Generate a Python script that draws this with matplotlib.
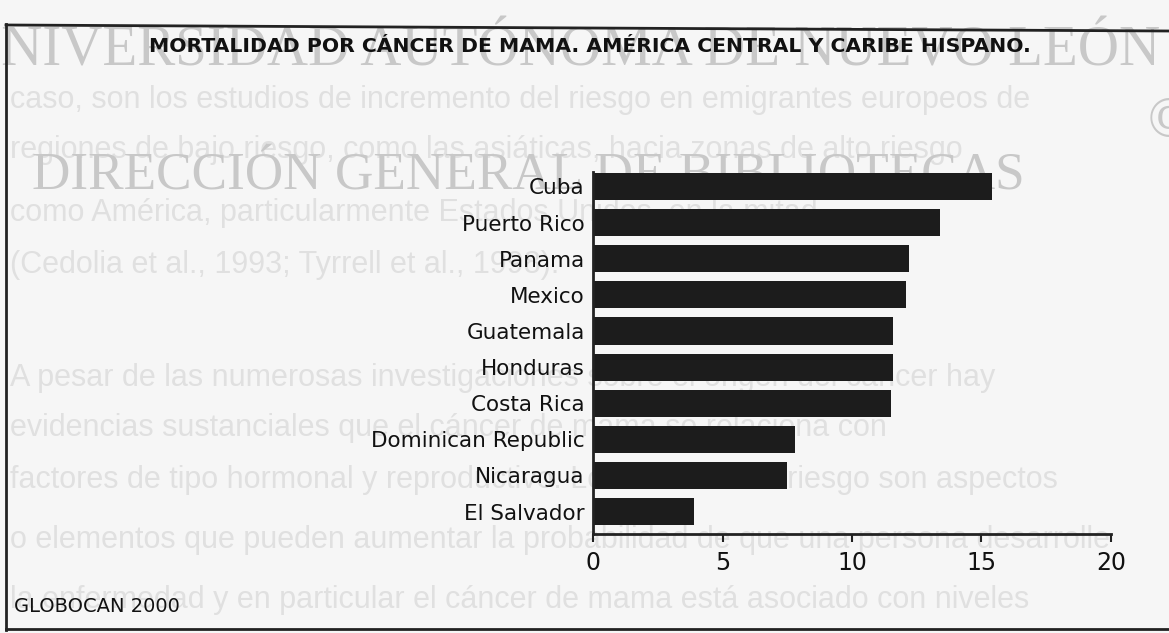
import matplotlib.pyplot as plt
from matplotlib.lines import Line2D

countries = ['Cuba', 'Puerto Rico', 'Panama', 'Mexico', 'Guatemala', 'Honduras',
             'Costa Rica', 'Dominican Republic', 'Nicaragua', 'El Salvador']
rates = [15.4, 13.4, 12.2, 12.1, 11.6, 11.6, 11.5, 7.8, 7.5, 3.9]
xticks = [0, 5, 10, 15, 20]

title = 'MORTALIDAD POR CÁNCER DE MAMA. AMÉRICA CENTRAL Y CARIBE HISPANO.'
source = 'GLOBOCAN 2000'
watermark_1 = 'UNIVERSIDAD AUTÓNOMA DE NUEVO LEÓN'
watermark_2 = 'DIRECCIÓN GENERAL DE BIBLIOTECAS'
# faint page text showing through the scan
page_lines = [
    'caso, son los estudios de incremento del riesgo en emigrantes europeos de',
    'regiones de bajo riesgo, como las asiáticas, hacia zonas de alto riesgo',
    'como América, particularmente Estados Unidos, en la mitad',
    '(Cedolia et al., 1993; Tyrrell et al., 1998).',
    'A pesar de las numerosas investigaciones sobre el origen del cáncer hay',
    'evidencias sustanciales que el cáncer de mama se relaciona con',
    'factores de tipo hormonal y reproductivo. Los factores de riesgo son aspectos',
    'o elementos que pueden aumentar la probabilidad de que una persona desarrolle',
    'la enfermedad y en particular el cáncer de mama está asociado con niveles',
]
page_y = [100, 150, 213, 265, 378, 428, 480, 540, 600]

W, H = 1169, 633

fig = plt.figure(figsize=(W / 100, H / 100), dpi=100)
fig.patch.set_facecolor('#f6f6f6')

# background page text and watermark, kept under the chart
for line, y in zip(page_lines, page_y):
    fig.text(10 / W, 1 - y / H, line, fontsize=22, color='#e0e0e0',
             family='Liberation Sans', va='center', ha='left', zorder=-2)
fig.text(-40 / W, 1 - 52 / H, watermark_1, fontsize=41, color='#c8c8c8',
         family='Liberation Serif', va='center', ha='left', zorder=-1)
fig.text(32 / W, 1 - 176 / H, watermark_2, fontsize=38.3, color='#c8c8c8',
         family='Liberation Serif', va='center', ha='left', zorder=-1)
fig.text(1148 / W, 1 - 122 / H, '©', fontsize=40, color='#c8c8c8',
         family='Liberation Serif', va='center', ha='left', zorder=-1)

# frame of the figure box
fig.add_artist(Line2D([6 / W, 6 / W], [1 - 24 / H, 1 - 630 / H], color='#222222', lw=2))
fig.add_artist(Line2D([6 / W, 1.0], [1 - 25 / H, 1 - 31 / H], color='#222222', lw=2))
fig.add_artist(Line2D([6 / W, 1.0], [1 - 629 / H, 1 - 629 / H], color='#222222', lw=2))

fig.text(590 / W, 1 - 47 / H, title, fontsize=14.7, fontweight='bold',
         ha='center', va='center', color='#111111')
fig.text(14 / W, 1 - 606 / H, source, fontsize=14,
         ha='left', va='center', color='#111111')

ax = fig.add_axes([593 / W, 1 - 534 / H, (1111 - 593) / W, (534 - 172) / H])
ax.patch.set_alpha(0)
ypos = list(range(len(countries)))
ax.barh(ypos, rates, height=0.75, color='#1c1c1c')
ax.set_xlim(0, 20)
ax.set_ylim(9.62, -0.4)
ax.set_yticks(ypos)
ax.set_yticklabels(countries, fontsize=15.5, color='#111111')
ax.set_xticks(xticks)
ax.set_xticklabels([str(t) for t in xticks], fontsize=17, color='#111111')
ax.tick_params(axis='y', length=0, pad=6)
ax.tick_params(axis='x', length=6, width=1.5, pad=6, color='#222222')
for s in ['top', 'right']:
    ax.spines[s].set_visible(False)
for s in ['left', 'bottom']:
    ax.spines[s].set_linewidth(2)
    ax.spines[s].set_color('#222222')

fig.savefig('out.png', dpi=100, facecolor=fig.get_facecolor())
